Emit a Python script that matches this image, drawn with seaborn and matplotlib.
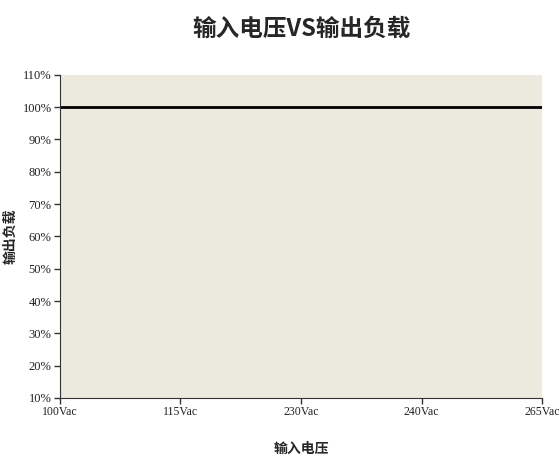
import numpy as np
import pandas as pd
import seaborn as sns
import matplotlib.pyplot as plt
from matplotlib.ticker import PercentFormatter

# data
voltages = ["100Vac", "115Vac", "230Vac", "240Vac", "265Vac"]
load_pct = [100, 100, 100, 100, 100]
y_ticks = [10, 20, 30, 40, 50, 60, 70, 80, 90, 100, 110]

df = pd.DataFrame({"voltage": voltages, "load": load_pct})

sns.set_style("ticks")
plt.rcParams['font.family'] = ['Noto Sans CJK SC', 'DejaVu Sans']

f, ax = plt.subplots(figsize=(5.6, 4.59), dpi=100)
ax.set_facecolor("#ECE9DF")

sns.lineplot(data=df, x="voltage", y="load", sort=False, color="black",
             linewidth=2, ax=ax)

ax.set_xlim(0, len(voltages) - 1)
ax.set_ylim(10, 110)
ax.set_yticks(y_ticks)
ax.yaxis.set_major_formatter(PercentFormatter(decimals=0))
ax.tick_params(axis="both", length=4, width=1, color="#333333",
               labelcolor="#222222", pad=2)
ax.tick_params(axis="y", labelsize=9)
ax.tick_params(axis="x", labelsize=8.5)
for lab in ax.get_xticklabels() + ax.get_yticklabels():
    lab.set_family(['Liberation Serif', 'DejaVu Sans'])

sns.despine(ax=ax)
ax.spines["left"].set_color("#333333")
ax.spines["bottom"].set_color("#333333")

ax.set_title("输入电压VS输出负载", fontsize=17, fontweight="bold", pad=28)
ax.set_xlabel("输入电压", fontsize=10, fontweight="bold", labelpad=17)
ax.set_ylabel("输出负载", fontsize=10, fontweight="bold")
ax.yaxis.set_label_coords(-0.088, 0.5)

plt.subplots_adjust(left=0.107, right=0.968, top=0.837, bottom=0.133)
plt.savefig("out.png", format="png", dpi=100)
